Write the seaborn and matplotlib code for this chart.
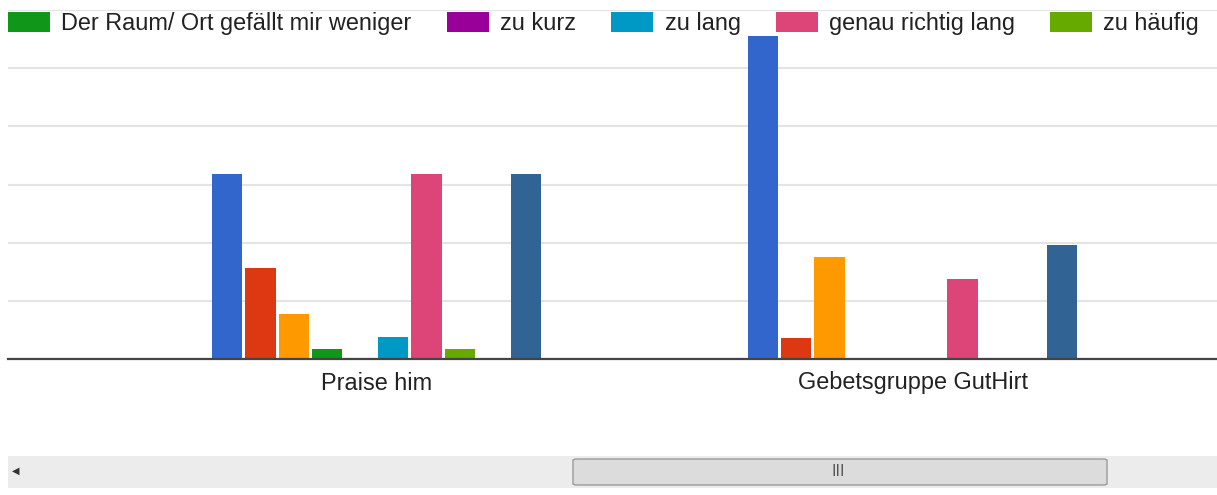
import pandas as pd
import seaborn as sns
import matplotlib.pyplot as plt
from matplotlib.patches import Patch, Rectangle, FancyBboxPatch

# categories and the 10 series (google chart default colours)
categories = ["Praise him", "Gebetsgruppe GutHirt"]
series = ["Serie 1", "Serie 2", "Serie 3",
          "Der Raum/ Ort gefällt mir weniger", "zu kurz", "zu lang",
          "genau richtig lang", "zu häufig", "Serie 9", "Serie 10"]
series_colors = ["#3366cc", "#dc3912", "#ff9900", "#109618", "#990099",
                 "#0099c6", "#dd4477", "#66aa00", "#b82e2e", "#316395"]
praise_him = [3.18, 1.56, 0.77, 0.17, 0, 0.38, 3.18, 0.17, 0, 3.18]
guthirt = [5.55, 0.36, 1.75, 0, 0, 0, 1.37, 0, 0, 1.96]
legend_items = series[3:8]

df = pd.DataFrame({
    "kategorie": [categories[0]] * len(series) + [categories[1]] * len(series),
    "serie": series + series,
    "wert": praise_him + guthirt,
})

W, H = 1217, 495
FS = 16.9
plt.rcParams['font.family'] = ['Liberation Sans', 'DejaVu Sans']
fig = plt.figure(figsize=(W / 100, H / 100), dpi=100)
fig.patch.set_facecolor('white')

# plot area in pixels: x 8..1217, baseline at y=359
ax = fig.add_axes([8 / W, (H - 359) / H, (W - 8) / W, 349 / H])

sns.barplot(data=df, x="kategorie", y="wert", hue="serie", order=categories,
            hue_order=series, palette=series_colors, saturation=1,
            width=0.62, gap=0.09, dodge=True, legend=False, ax=ax, zorder=3)

ax.set_xlim(-0.688, 1.568)
ax.set_ylim(0, 6)
ax.set_yticks(range(0, 7))
ax.yaxis.grid(True, color="#e4e4e4", linewidth=1.5, zorder=0)
ax.set_axisbelow(True)
ax.tick_params(axis='y', left=False, labelleft=False)
ax.tick_params(axis='x', length=0, pad=9, labelsize=FS, labelcolor="#222222")
ax.set_xlabel("")
ax.set_ylabel("")
for side in ["top", "right", "left"]:
    ax.spines[side].set_visible(False)
ax.spines["bottom"].set_color("#444444")
ax.spines["bottom"].set_linewidth(1.6)
ax.spines["bottom"].set_zorder(4)

# legend along the top
handles = [Patch(facecolor=series_colors[series.index(s)], edgecolor="none", label=s)
           for s in legend_items]
leg = fig.legend(handles=handles, loc="upper left", bbox_to_anchor=(8 / W, 1 - 12 / H),
                 ncol=5, frameon=False, fontsize=FS, handlelength=1.8,
                 handleheight=0.89, handletextpad=0.47, columnspacing=1.5,
                 borderpad=0, borderaxespad=0)
for t in leg.get_texts():
    t.set_color("#222222")

# horizontal scrollbar at the bottom
fig.add_artist(Rectangle((8 / W, (H - 488) / H), (W - 8) / W, 32 / H,
                         transform=fig.transFigure, facecolor="#ececec",
                         edgecolor="none"))
fig.add_artist(FancyBboxPatch((573 / W, (H - 485) / H), 534 / W, 26 / H,
                              boxstyle="round,pad=0,rounding_size=0.003",
                              transform=fig.transFigure, facecolor="#dcdcdc",
                              edgecolor="#9a9a9a", linewidth=1))
fig.text(838 / W, (H - 471) / H, "III", ha="center", va="center", fontsize=11,
         color="#555555", family="DejaVu Sans")
fig.text(16 / W, (H - 471) / H, "◀", ha="center", va="center", fontsize=7,
         color="#333333", family="DejaVu Sans")

fig.savefig("out.png", dpi=100)
